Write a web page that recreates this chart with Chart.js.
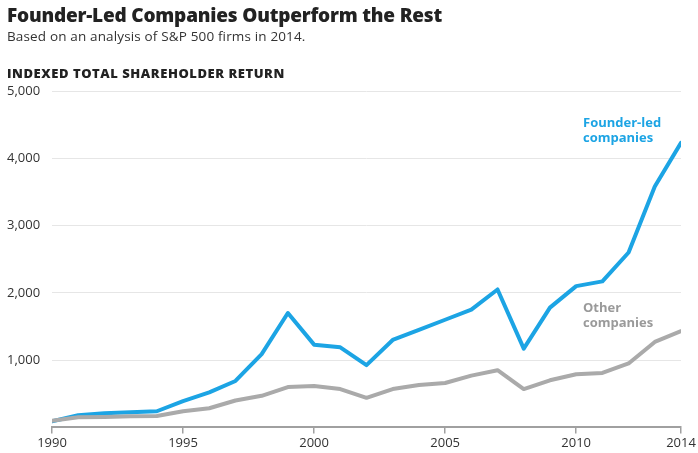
<!DOCTYPE html>
<html>
<head>
<meta charset="utf-8">
<script src="https://cdn.jsdelivr.net/npm/chart.js@4.4.0/dist/chart.umd.min.js"></script>
<style>
  html, body { margin: 0; padding: 0; background: #fff; }
  #wrap { position: relative; width: 698px; height: 453px; overflow: hidden; font-family: "Open Sans", Lato, sans-serif; }
  canvas { position: absolute; left: 0; top: 0; }
  .t { position: absolute; white-space: nowrap; }
  #title { left: 7px; top: 2px; font-size: 19px; font-weight: 800; color: #222; letter-spacing: -0.2px; }
  #sub { left: 7px; top: 27px; font-size: 13.5px; color: #333; letter-spacing: 0.15px; }
  #ylab { left: 7px; top: 64px; font-size: 13px; font-weight: 800; color: #222; letter-spacing: 0.55px; }
  #lf { left: 583px; top: 115px; font-size: 13px; font-weight: 700; color: #1ca4e4; line-height: 15px; }
  #lo { left: 583px; top: 300px; font-size: 13px; font-weight: 700; color: #9a9a9a; line-height: 15px; }
</style>
</head>
<body>
<div id="wrap">
  <canvas id="c" width="698" height="453"></canvas>
  <div class="t" id="title">Founder-Led Companies Outperform the Rest</div>
  <div class="t" id="sub">Based on an analysis of S&amp;P 500 firms in 2014.</div>
  <div class="t" id="ylab">INDEXED TOTAL SHAREHOLDER RETURN</div>
  <div class="t" id="lf">Founder-led<br>companies</div>
  <div class="t" id="lo">Other<br>companies</div>
</div>
<script>
const years = [1990,1991,1992,1993,1994,1995,1996,1997,1998,1999,2000,2001,2002,2003,2004,2005,2006,2007,2008,2009,2010,2011,2012,2013,2014];
const founderLed = [90,180,210,225,240,390,520,690,1090,1700,1230,1190,925,1300,1450,1600,1750,2050,1170,1780,2100,2170,2600,3580,4230];
const otherCompanies = [100,150,155,165,170,240,285,400,470,600,615,570,440,570,630,660,770,850,570,700,790,810,950,1270,1430];
const xTickLabels = [1990,1995,2000,2005,2010,2014];
const yTickValues = [0,1000,2000,3000,4000,5000];

const toPts = (arr) => years.map((y, i) => ({ x: y, y: arr[i] }));

new Chart(document.getElementById('c'), {
  type: 'line',
  data: {
    datasets: [
      { label: 'Other companies', data: toPts(otherCompanies), borderColor: '#aaaaaa', borderWidth: 4, pointRadius: 0, tension: 0, borderJoinStyle: 'round', borderCapStyle: 'round' },
      { label: 'Founder-led companies', data: toPts(founderLed), borderColor: '#1ca4e4', borderWidth: 4, pointRadius: 0, tension: 0, borderJoinStyle: 'round', borderCapStyle: 'round' }
    ]
  },
  options: {
    responsive: false,
    animation: false,
    events: [],
    layout: { padding: { top: 91, left: 7, right: 17, bottom: 0 } },
    plugins: { legend: { display: false }, tooltip: { enabled: false } },
    scales: {
      x: {
        type: 'linear',
        min: 1990, max: 2014,
        afterBuildTicks: (s) => { s.ticks = xTickLabels.map(v => ({ value: v })); },
        ticks: { color: '#333', font: { family: '"Open Sans", Lato, sans-serif', size: 13 }, padding: 2, maxRotation: 0, autoSkip: false, callback: (v) => String(v) },
        grid: { drawOnChartArea: false, drawTicks: true, tickLength: 6, color: '#a0a0a0', lineWidth: 1.5 },
        border: { display: true, color: '#a0a0a0', width: 2 }
      },
      y: {
        min: 0, max: 5000,
        afterBuildTicks: (s) => { s.ticks = yTickValues.map(v => ({ value: v })); },
        afterFit: (s) => { s.width = 45; },
        ticks: { color: '#333', font: { family: '"Open Sans", Lato, sans-serif', size: 13 }, crossAlign: 'far', padding: 0,
                 callback: (v) => v === 0 ? '' : v.toLocaleString('en-US') },
        grid: { drawTicks: false, color: (ctx) => ctx.tick && ctx.tick.value === 0 ? 'rgba(0,0,0,0)' : '#e6e6e6', lineWidth: 1 },
        border: { display: false }
      }
    }
  }
});
</script>
</body>
</html>
